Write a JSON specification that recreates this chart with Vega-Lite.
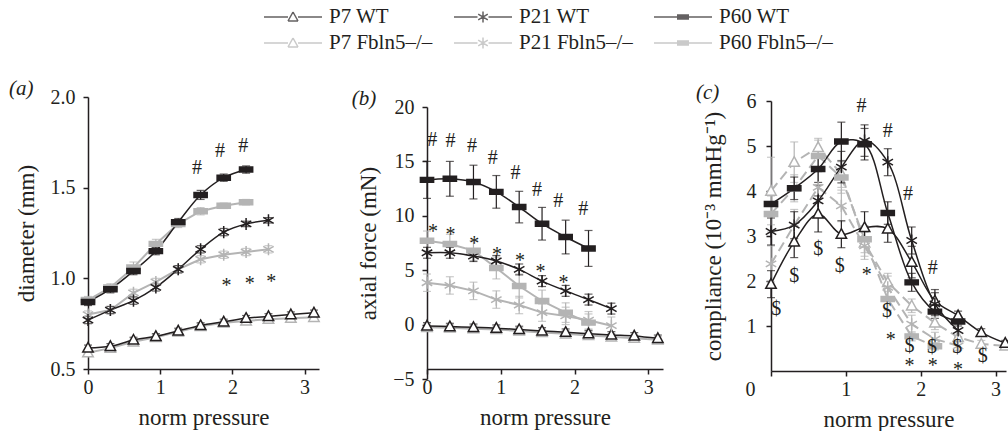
{
  "$schema": "https://vega.github.io/schema/vega-lite/v6.json",
  "background": "white",
  "padding": {"left": 9, "top": 6, "right": 0, "bottom": 0},
  "config": {
    "font": "Liberation Serif",
    "view": {"stroke": null},
    "axis": {"labelFont": "Liberation Serif", "titleFont": "Liberation Serif", "labelFontSize": 20, "titleFontSize": 23, "titleFontWeight": "normal", "labelColor": "#231f20", "titleColor": "#231f20", "domainColor": "#231f20", "tickColor": "#231f20", "grid": false, "tickSize": 5, "domainWidth": 1.5, "tickWidth": 1.5},
    "axisY": {"labelPadding": 8, "titlePadding": 12},
    "axisX": {"labelPadding": 3, "titlePadding": 9, "labelFlush": false, "labelOverlap": false},
    "title": {"font": "Liberation Serif", "fontSize": 21, "fontWeight": "normal", "fontStyle": "italic", "anchor": "start", "frame": "bounds", "color": "#231f20", "offset": -12, "dx": -6},
    "legend": {"labelFont": "Liberation Serif", "labelFontSize": 21, "labelColor": "#231f20", "symbolSize": 400, "symbolStrokeWidth": 1.5, "labelOffset": 25, "columnPadding": 18, "rowPadding": 5, "padding": 0, "labelLimit": 300}
  },
  "datasets": {
    "a": [
      {"s":"P7 Fbln5–/–","p":0,"v":0.59,"lo":0.575,"hi":0.605},
      {"s":"P7 Fbln5–/–","p":0.31,"v":0.615,"lo":0.6,"hi":0.63},
      {"s":"P7 Fbln5–/–","p":0.63,"v":0.65,"lo":0.635,"hi":0.665},
      {"s":"P7 Fbln5–/–","p":0.94,"v":0.675,"lo":0.66,"hi":0.69},
      {"s":"P7 Fbln5–/–","p":1.25,"v":0.705,"lo":0.69,"hi":0.72},
      {"s":"P7 Fbln5–/–","p":1.56,"v":0.735,"lo":0.72,"hi":0.75},
      {"s":"P7 Fbln5–/–","p":1.88,"v":0.755,"lo":0.74,"hi":0.77},
      {"s":"P7 Fbln5–/–","p":2.19,"v":0.765,"lo":0.75,"hi":0.78},
      {"s":"P7 Fbln5–/–","p":2.5,"v":0.775,"lo":0.76,"hi":0.79},
      {"s":"P7 Fbln5–/–","p":2.81,"v":0.78,"lo":0.765,"hi":0.795},
      {"s":"P7 Fbln5–/–","p":3.13,"v":0.785,"lo":0.77,"hi":0.8},
      {"s":"P21 Fbln5–/–","p":0,"v":0.8,"lo":0.78,"hi":0.82},
      {"s":"P21 Fbln5–/–","p":0.31,"v":0.825,"lo":0.805,"hi":0.845},
      {"s":"P21 Fbln5–/–","p":0.63,"v":0.92,"lo":0.9,"hi":0.94},
      {"s":"P21 Fbln5–/–","p":0.94,"v":0.98,"lo":0.96,"hi":1.0},
      {"s":"P21 Fbln5–/–","p":1.25,"v":1.05,"lo":1.03,"hi":1.07},
      {"s":"P21 Fbln5–/–","p":1.56,"v":1.105,"lo":1.085,"hi":1.125},
      {"s":"P21 Fbln5–/–","p":1.88,"v":1.13,"lo":1.11,"hi":1.15},
      {"s":"P21 Fbln5–/–","p":2.19,"v":1.145,"lo":1.125,"hi":1.165},
      {"s":"P21 Fbln5–/–","p":2.5,"v":1.16,"lo":1.14,"hi":1.18},
      {"s":"P60 Fbln5–/–","p":0,"v":0.88,"lo":0.86,"hi":0.9},
      {"s":"P60 Fbln5–/–","p":0.31,"v":0.95,"lo":0.93,"hi":0.97},
      {"s":"P60 Fbln5–/–","p":0.63,"v":1.06,"lo":1.03,"hi":1.09},
      {"s":"P60 Fbln5–/–","p":0.94,"v":1.19,"lo":1.165,"hi":1.215},
      {"s":"P60 Fbln5–/–","p":1.25,"v":1.3,"lo":1.28,"hi":1.32},
      {"s":"P60 Fbln5–/–","p":1.56,"v":1.37,"lo":1.35,"hi":1.39},
      {"s":"P60 Fbln5–/–","p":1.88,"v":1.4,"lo":1.385,"hi":1.415},
      {"s":"P60 Fbln5–/–","p":2.19,"v":1.42,"lo":1.405,"hi":1.435},
      {"s":"P7 WT","p":0,"v":0.616,"lo":0.6,"hi":0.632},
      {"s":"P7 WT","p":0.31,"v":0.625,"lo":0.61,"hi":0.64},
      {"s":"P7 WT","p":0.63,"v":0.66,"lo":0.645,"hi":0.675},
      {"s":"P7 WT","p":0.94,"v":0.68,"lo":0.665,"hi":0.695},
      {"s":"P7 WT","p":1.25,"v":0.71,"lo":0.695,"hi":0.725},
      {"s":"P7 WT","p":1.56,"v":0.74,"lo":0.725,"hi":0.755},
      {"s":"P7 WT","p":1.88,"v":0.76,"lo":0.745,"hi":0.775},
      {"s":"P7 WT","p":2.19,"v":0.78,"lo":0.765,"hi":0.795},
      {"s":"P7 WT","p":2.5,"v":0.79,"lo":0.775,"hi":0.805},
      {"s":"P7 WT","p":2.81,"v":0.8,"lo":0.785,"hi":0.815},
      {"s":"P7 WT","p":3.13,"v":0.81,"lo":0.795,"hi":0.825},
      {"s":"P21 WT","p":0,"v":0.77,"lo":0.75,"hi":0.79},
      {"s":"P21 WT","p":0.31,"v":0.825,"lo":0.805,"hi":0.845},
      {"s":"P21 WT","p":0.63,"v":0.877,"lo":0.857,"hi":0.897},
      {"s":"P21 WT","p":0.94,"v":0.95,"lo":0.93,"hi":0.97},
      {"s":"P21 WT","p":1.25,"v":1.05,"lo":1.03,"hi":1.07},
      {"s":"P21 WT","p":1.56,"v":1.16,"lo":1.14,"hi":1.18},
      {"s":"P21 WT","p":1.88,"v":1.255,"lo":1.235,"hi":1.275},
      {"s":"P21 WT","p":2.19,"v":1.3,"lo":1.285,"hi":1.315},
      {"s":"P21 WT","p":2.5,"v":1.32,"lo":1.305,"hi":1.335},
      {"s":"P60 WT","p":0,"v":0.87,"lo":0.85,"hi":0.89},
      {"s":"P60 WT","p":0.31,"v":0.94,"lo":0.92,"hi":0.96},
      {"s":"P60 WT","p":0.63,"v":1.04,"lo":1.02,"hi":1.06},
      {"s":"P60 WT","p":0.94,"v":1.15,"lo":1.13,"hi":1.17},
      {"s":"P60 WT","p":1.25,"v":1.31,"lo":1.29,"hi":1.33},
      {"s":"P60 WT","p":1.56,"v":1.46,"lo":1.435,"hi":1.485},
      {"s":"P60 WT","p":1.88,"v":1.555,"lo":1.535,"hi":1.575},
      {"s":"P60 WT","p":2.19,"v":1.6,"lo":1.58,"hi":1.62}
    ],
    "a_ann": [
      {"p":1.51,"v":1.61,"t":"#"},
      {"p":1.83,"v":1.7,"t":"#"},
      {"p":2.15,"v":1.73,"t":"#"},
      {"p":1.92,"v":0.98,"t":"*"},
      {"p":2.24,"v":0.99,"t":"*"},
      {"p":2.54,"v":1.0,"t":"*"}
    ],
    "b": [
      {"s":"P7 Fbln5–/–","p":0,"v":-0.25,"lo":-0.55,"hi":0.05},
      {"s":"P7 Fbln5–/–","p":0.31,"v":-0.3,"lo":-0.6,"hi":0},
      {"s":"P7 Fbln5–/–","p":0.63,"v":-0.38,"lo":-0.68,"hi":-0.08},
      {"s":"P7 Fbln5–/–","p":0.94,"v":-0.45,"lo":-0.75,"hi":-0.15},
      {"s":"P7 Fbln5–/–","p":1.25,"v":-0.58,"lo":-0.88,"hi":-0.28},
      {"s":"P7 Fbln5–/–","p":1.56,"v":-0.72,"lo":-1.02,"hi":-0.42},
      {"s":"P7 Fbln5–/–","p":1.88,"v":-0.85,"lo":-1.15,"hi":-0.55},
      {"s":"P7 Fbln5–/–","p":2.19,"v":-1.0,"lo":-1.3,"hi":-0.7},
      {"s":"P7 Fbln5–/–","p":2.5,"v":-1.12,"lo":-1.42,"hi":-0.82},
      {"s":"P7 Fbln5–/–","p":2.81,"v":-1.25,"lo":-1.55,"hi":-0.95},
      {"s":"P7 Fbln5–/–","p":3.13,"v":-1.4,"lo":-1.7,"hi":-1.1},
      {"s":"P21 Fbln5–/–","p":0,"v":3.85,"lo":3.05,"hi":4.65},
      {"s":"P21 Fbln5–/–","p":0.31,"v":3.6,"lo":2.8,"hi":4.4},
      {"s":"P21 Fbln5–/–","p":0.63,"v":3.1,"lo":2.3,"hi":3.9},
      {"s":"P21 Fbln5–/–","p":0.94,"v":2.3,"lo":1.5,"hi":3.1},
      {"s":"P21 Fbln5–/–","p":1.25,"v":1.8,"lo":1.0,"hi":2.6},
      {"s":"P21 Fbln5–/–","p":1.56,"v":1.1,"lo":0.3,"hi":1.9},
      {"s":"P21 Fbln5–/–","p":1.88,"v":0.8,"lo":0.0,"hi":1.6},
      {"s":"P21 Fbln5–/–","p":2.19,"v":0.4,"lo":-0.4,"hi":1.2},
      {"s":"P21 Fbln5–/–","p":2.5,"v":-0.1,"lo":-0.9,"hi":0.7},
      {"s":"P60 Fbln5–/–","p":0,"v":7.7,"lo":6.8,"hi":8.6},
      {"s":"P60 Fbln5–/–","p":0.31,"v":7.4,"lo":6.5,"hi":8.3},
      {"s":"P60 Fbln5–/–","p":0.63,"v":6.8,"lo":5.9,"hi":7.7},
      {"s":"P60 Fbln5–/–","p":0.94,"v":5.2,"lo":4.2,"hi":6.2},
      {"s":"P60 Fbln5–/–","p":1.25,"v":3.55,"lo":2.45,"hi":4.65},
      {"s":"P60 Fbln5–/–","p":1.56,"v":2.17,"lo":1.17,"hi":3.17},
      {"s":"P60 Fbln5–/–","p":1.88,"v":1.1,"lo":0.2,"hi":2.0},
      {"s":"P60 Fbln5–/–","p":2.19,"v":0.18,"lo":-0.62,"hi":0.98},
      {"s":"P7 WT","p":0,"v":-0.12,"lo":-0.42,"hi":0.18},
      {"s":"P7 WT","p":0.31,"v":-0.18,"lo":-0.48,"hi":0.12},
      {"s":"P7 WT","p":0.63,"v":-0.25,"lo":-0.55,"hi":0.05},
      {"s":"P7 WT","p":0.94,"v":-0.33,"lo":-0.63,"hi":-0.03},
      {"s":"P7 WT","p":1.25,"v":-0.45,"lo":-0.75,"hi":-0.15},
      {"s":"P7 WT","p":1.56,"v":-0.58,"lo":-0.88,"hi":-0.28},
      {"s":"P7 WT","p":1.88,"v":-0.7,"lo":-1.0,"hi":-0.4},
      {"s":"P7 WT","p":2.19,"v":-0.83,"lo":-1.13,"hi":-0.53},
      {"s":"P7 WT","p":2.5,"v":-0.95,"lo":-1.25,"hi":-0.65},
      {"s":"P7 WT","p":2.81,"v":-1.04,"lo":-1.34,"hi":-0.74},
      {"s":"P7 WT","p":3.13,"v":-1.26,"lo":-1.56,"hi":-0.96},
      {"s":"P21 WT","p":0,"v":6.6,"lo":6.1,"hi":7.1},
      {"s":"P21 WT","p":0.31,"v":6.6,"lo":6.1,"hi":7.1},
      {"s":"P21 WT","p":0.63,"v":6.3,"lo":5.8,"hi":6.8},
      {"s":"P21 WT","p":0.94,"v":5.85,"lo":5.35,"hi":6.35},
      {"s":"P21 WT","p":1.25,"v":5.07,"lo":4.57,"hi":5.57},
      {"s":"P21 WT","p":1.56,"v":4.0,"lo":3.5,"hi":4.5},
      {"s":"P21 WT","p":1.88,"v":3.1,"lo":2.6,"hi":3.6},
      {"s":"P21 WT","p":2.19,"v":2.3,"lo":1.8,"hi":2.8},
      {"s":"P21 WT","p":2.5,"v":1.47,"lo":0.97,"hi":1.97},
      {"s":"P60 WT","p":0,"v":13.3,"lo":11.6,"hi":15.0},
      {"s":"P60 WT","p":0.31,"v":13.4,"lo":11.8,"hi":15.0},
      {"s":"P60 WT","p":0.63,"v":13.1,"lo":11.55,"hi":14.65},
      {"s":"P60 WT","p":0.94,"v":12.2,"lo":10.7,"hi":13.7},
      {"s":"P60 WT","p":1.25,"v":10.8,"lo":9.35,"hi":12.25},
      {"s":"P60 WT","p":1.56,"v":9.27,"lo":7.77,"hi":10.77},
      {"s":"P60 WT","p":1.88,"v":8.05,"lo":6.5,"hi":9.6},
      {"s":"P60 WT","p":2.19,"v":7.0,"lo":5.35,"hi":8.65}
    ],
    "b_ann": [
      {"p":0.07,"v":17.0,"t":"#"},
      {"p":0.32,"v":16.9,"t":"#"},
      {"p":0.61,"v":16.4,"t":"#"},
      {"p":0.89,"v":15.3,"t":"#"},
      {"p":1.2,"v":13.9,"t":"#"},
      {"p":1.49,"v":12.4,"t":"#"},
      {"p":1.78,"v":11.4,"t":"#"},
      {"p":2.12,"v":10.6,"t":"#"},
      {"p":0.08,"v":8.9,"t":"*"},
      {"p":0.32,"v":8.6,"t":"*"},
      {"p":0.64,"v":7.8,"t":"*"},
      {"p":0.95,"v":6.8,"t":"*"},
      {"p":1.26,"v":6.2,"t":"*"},
      {"p":1.54,"v":5.2,"t":"*"},
      {"p":1.85,"v":4.2,"t":"*"}
    ],
    "c": [
      {"s":"P7 Fbln5–/–","p":0,"v":4.0,"lo":3.25,"hi":4.75},
      {"s":"P7 Fbln5–/–","p":0.31,"v":4.64,"lo":4.19,"hi":5.09},
      {"s":"P7 Fbln5–/–","p":0.63,"v":4.97,"lo":4.77,"hi":5.17},
      {"s":"P7 Fbln5–/–","p":0.94,"v":4.38,"lo":4.08,"hi":4.68},
      {"s":"P7 Fbln5–/–","p":1.25,"v":2.85,"lo":2.55,"hi":3.15},
      {"s":"P7 Fbln5–/–","p":1.56,"v":1.97,"lo":1.77,"hi":2.17},
      {"s":"P7 Fbln5–/–","p":1.88,"v":1.45,"lo":1.3,"hi":1.6},
      {"s":"P7 Fbln5–/–","p":2.19,"v":1.07,"lo":0.92,"hi":1.22},
      {"s":"P7 Fbln5–/–","p":2.5,"v":0.75,"lo":0.65,"hi":0.85},
      {"s":"P7 Fbln5–/–","p":2.81,"v":0.6,"lo":0.52,"hi":0.68},
      {"s":"P7 Fbln5–/–","p":3.13,"v":0.56,"lo":0.5,"hi":0.62},
      {"s":"P21 Fbln5–/–","p":0,"v":2.38,"lo":1.98,"hi":2.78},
      {"s":"P21 Fbln5–/–","p":0.31,"v":3.24,"lo":2.89,"hi":3.59},
      {"s":"P21 Fbln5–/–","p":0.63,"v":4.08,"lo":3.73,"hi":4.43},
      {"s":"P21 Fbln5–/–","p":0.94,"v":3.67,"lo":3.32,"hi":4.02},
      {"s":"P21 Fbln5–/–","p":1.25,"v":2.78,"lo":2.48,"hi":3.08},
      {"s":"P21 Fbln5–/–","p":1.56,"v":1.86,"lo":1.61,"hi":2.11},
      {"s":"P21 Fbln5–/–","p":1.88,"v":1.04,"lo":0.84,"hi":1.24},
      {"s":"P21 Fbln5–/–","p":2.19,"v":0.71,"lo":0.56,"hi":0.86},
      {"s":"P21 Fbln5–/–","p":2.5,"v":0.56,"lo":0.46,"hi":0.66},
      {"s":"P60 Fbln5–/–","p":0,"v":3.49,"lo":3.09,"hi":3.89},
      {"s":"P60 Fbln5–/–","p":0.31,"v":4.06,"lo":3.76,"hi":4.36},
      {"s":"P60 Fbln5–/–","p":0.63,"v":4.78,"lo":4.43,"hi":5.13},
      {"s":"P60 Fbln5–/–","p":0.94,"v":4.3,"lo":3.95,"hi":4.65},
      {"s":"P60 Fbln5–/–","p":1.25,"v":2.93,"lo":2.63,"hi":3.23},
      {"s":"P60 Fbln5–/–","p":1.56,"v":1.6,"lo":1.35,"hi":1.85},
      {"s":"P60 Fbln5–/–","p":1.88,"v":0.77,"lo":0.67,"hi":0.87},
      {"s":"P60 Fbln5–/–","p":2.19,"v":0.55,"lo":0.47,"hi":0.63},
      {"s":"P7 WT","p":0,"v":1.93,"lo":1.63,"hi":2.23},
      {"s":"P7 WT","p":0.31,"v":2.87,"lo":2.52,"hi":3.22},
      {"s":"P7 WT","p":0.63,"v":3.49,"lo":3.09,"hi":3.89},
      {"s":"P7 WT","p":0.94,"v":3.04,"lo":2.74,"hi":3.34},
      {"s":"P7 WT","p":1.25,"v":3.19,"lo":2.84,"hi":3.54},
      {"s":"P7 WT","p":1.56,"v":3.16,"lo":2.86,"hi":3.46},
      {"s":"P7 WT","p":1.88,"v":2.42,"lo":2.07,"hi":2.77},
      {"s":"P7 WT","p":2.19,"v":1.56,"lo":1.31,"hi":1.81},
      {"s":"P7 WT","p":2.5,"v":1.23,"lo":1.13,"hi":1.33},
      {"s":"P7 WT","p":2.81,"v":0.86,"lo":0.78,"hi":0.94},
      {"s":"P7 WT","p":3.13,"v":0.62,"lo":0.56,"hi":0.68},
      {"s":"P21 WT","p":0,"v":3.1,"lo":2.8,"hi":3.4},
      {"s":"P21 WT","p":0.31,"v":3.24,"lo":2.94,"hi":3.54},
      {"s":"P21 WT","p":0.63,"v":3.78,"lo":3.43,"hi":4.13},
      {"s":"P21 WT","p":0.94,"v":4.53,"lo":4.18,"hi":4.88},
      {"s":"P21 WT","p":1.25,"v":5.12,"lo":4.77,"hi":5.47},
      {"s":"P21 WT","p":1.56,"v":4.64,"lo":4.34,"hi":4.94},
      {"s":"P21 WT","p":1.88,"v":2.9,"lo":2.6,"hi":3.2},
      {"s":"P21 WT","p":2.19,"v":1.49,"lo":1.24,"hi":1.74},
      {"s":"P21 WT","p":2.5,"v":0.9,"lo":0.75,"hi":1.05},
      {"s":"P60 WT","p":0,"v":3.71,"lo":3.66,"hi":3.76},
      {"s":"P60 WT","p":0.31,"v":4.06,"lo":3.81,"hi":4.31},
      {"s":"P60 WT","p":0.63,"v":4.49,"lo":4.19,"hi":4.79},
      {"s":"P60 WT","p":0.94,"v":5.1,"lo":4.67,"hi":5.53},
      {"s":"P60 WT","p":1.25,"v":5.04,"lo":4.69,"hi":5.39},
      {"s":"P60 WT","p":1.56,"v":3.51,"lo":3.26,"hi":3.76},
      {"s":"P60 WT","p":1.88,"v":1.97,"lo":1.77,"hi":2.17},
      {"s":"P60 WT","p":2.19,"v":1.32,"lo":1.17,"hi":1.47},
      {"s":"P60 WT","p":2.5,"v":1.1,"lo":1.0,"hi":1.2}
    ],
    "c_ann": [
      {"p":1.21,"v":5.9,"t":"#"},
      {"p":1.56,"v":5.34,"t":"#"},
      {"p":1.83,"v":3.93,"t":"#"},
      {"p":2.16,"v":2.3,"t":"#"},
      {"p":0.63,"v":2.71,"t":"$"},
      {"p":0.92,"v":2.34,"t":"$"},
      {"p":0.31,"v":2.12,"t":"$"},
      {"p":0.07,"v":1.38,"t":"$"},
      {"p":1.55,"v":1.34,"t":"$"},
      {"p":1.85,"v":0.56,"t":"$"},
      {"p":2.15,"v":0.53,"t":"$"},
      {"p":2.49,"v":0.53,"t":"$"},
      {"p":2.83,"v":0.33,"t":"$"},
      {"p":1.28,"v":2.23,"t":"*"},
      {"p":1.6,"v":0.77,"t":"*"},
      {"p":1.85,"v":0.19,"t":"*"},
      {"p":2.16,"v":0.2,"t":"*"},
      {"p":2.5,"v":0.12,"t":"*"}
    ]
  },
  "spacing": 28,
  "resolve": {"scale": {"color": "shared", "shape": "shared", "fill": "shared", "stroke": "shared"}, "legend": {"color": "shared", "shape": "shared"}},
  "hconcat": [
    {
      "title": {"text": "(a)"},
      "width": 231, "height": 272,
      "data": {"name": "a"},
      "layer": [
        {"transform": [{"filter": "indexof(datum.s,'WT') < 0"}],
         "mark": {"type": "errorbar", "ticks": true, "size": 8, "thickness": 1.2},
         "encoding": {
           "x": {"field": "p", "type": "quantitative", "title": "norm pressure", "scale": {"domain": [0, 3.2], "nice": false, "zero": false}, "axis": {"values": [0, 1, 2, 3], "format": "d"}},
           "y": {"field": "lo", "type": "quantitative", "title": "diameter (mm)", "scale": {"domain": [0.5, 2.0], "nice": false, "zero": false}, "axis": {"values": [0.5, 1, 1.5, 2], "format": ".1f"}},
           "y2": {"field": "hi"},
           "color": {"field": "s", "type": "nominal", "scale": {"domain": ["P7 WT","P21 WT","P60 WT","P7 Fbln5–/–","P21 Fbln5–/–","P60 Fbln5–/–"], "range": ["#231f20","#231f20","#231f20","#b4b4b4","#b4b4b4","#b4b4b4"]}}
         }},
        {"transform": [{"filter": "indexof(datum.s,'WT') < 0"}],
         "mark": {"type": "line", "strokeWidth": 2},
         "encoding": {
           "x": {"field": "p", "type": "quantitative", "title": "norm pressure"},
           "y": {"field": "v", "type": "quantitative", "title": "diameter (mm)"},
           "color": {"field": "s", "type": "nominal"}
         }},
        {"transform": [{"filter": "indexof(datum.s,'WT') > 0"}],
         "mark": {"type": "errorbar", "ticks": true, "size": 8, "thickness": 1.2},
         "encoding": {
           "x": {"field": "p", "type": "quantitative", "title": "norm pressure"},
           "y": {"field": "lo", "type": "quantitative", "title": "diameter (mm)"},
           "y2": {"field": "hi"},
           "color": {"field": "s", "type": "nominal"}
         }},
        {"transform": [{"filter": "indexof(datum.s,'WT') > 0"}],
         "mark": {"type": "line", "strokeWidth": 1.5, "interpolate": "catmull-rom"},
         "encoding": {
           "x": {"field": "p", "type": "quantitative", "title": "norm pressure"},
           "y": {"field": "v", "type": "quantitative", "title": "diameter (mm)"},
           "color": {"field": "s", "type": "nominal"}
         }},
        {"transform": [{"filter": "indexof(datum.s,'P7') === 0"}],
         "mark": {"type": "point", "shape": "M0,-1L0.95,0.75L-0.95,0.75Z", "size": 121, "strokeWidth": 1.5, "opacity": 1, "fillOpacity": 1},
         "encoding": {
           "x": {"field": "p", "type": "quantitative", "title": "norm pressure"},
           "y": {"field": "v", "type": "quantitative", "title": "diameter (mm)"},
           "fill": {"field": "s", "type": "nominal", "legend": null, "scale": {"domain": ["P7 WT","P21 WT","P60 WT","P7 Fbln5–/–","P21 Fbln5–/–","P60 Fbln5–/–"], "range": ["white","white","#231f20","white","white","#b4b4b4"]}},
           "stroke": {"field": "s", "type": "nominal", "legend": null, "scale": {"domain": ["P7 WT","P21 WT","P60 WT","P7 Fbln5–/–","P21 Fbln5–/–","P60 Fbln5–/–"], "range": ["#231f20","#231f20","#231f20","#b4b4b4","#b4b4b4","#b4b4b4"]}}
         }},
        {"transform": [{"filter": "indexof(datum.s,'P21') === 0"}],
         "mark": {"type": "point", "shape": "M0,-1.1L0,1.1M-0.95,-0.55L0.95,0.55M-0.95,0.55L0.95,-0.55", "size": 121, "strokeWidth": 1.5, "opacity": 1, "fillOpacity": 1},
         "encoding": {
           "x": {"field": "p", "type": "quantitative", "title": "norm pressure"},
           "y": {"field": "v", "type": "quantitative", "title": "diameter (mm)"},
           "fill": {"field": "s", "type": "nominal", "legend": null},
           "stroke": {"field": "s", "type": "nominal", "legend": null}
         }},
        {"transform": [{"filter": "indexof(datum.s,'P60') === 0"}],
         "mark": {"type": "point", "shape": "M-1.2,-0.45L1.2,-0.45L1.2,0.45L-1.2,0.45Z", "size": 121, "strokeWidth": 1.5, "opacity": 1, "fillOpacity": 1},
         "encoding": {
           "x": {"field": "p", "type": "quantitative", "title": "norm pressure"},
           "y": {"field": "v", "type": "quantitative", "title": "diameter (mm)"},
           "fill": {"field": "s", "type": "nominal", "legend": null},
           "stroke": {"field": "s", "type": "nominal", "legend": null}
         }},
        {"data": {"name": "a_ann"}, "transform": [{"filter": "datum.t !== '*'"}],
         "mark": {"type": "text", "font": "Liberation Serif", "fontSize": 20, "fill": "#231f20", "baseline": "middle"},
         "encoding": {
           "x": {"field": "p", "type": "quantitative", "title": "norm pressure"},
           "y": {"field": "v", "type": "quantitative", "title": "diameter (mm)"},
           "text": {"field": "t"}
         }},
        {"data": {"name": "a_ann"}, "transform": [{"filter": "datum.t === '*'"}],
         "mark": {"type": "text", "font": "Liberation Serif", "fontSize": 20, "fill": "#231f20", "baseline": "middle", "dy": 4},
         "encoding": {
           "x": {"field": "p", "type": "quantitative", "title": "norm pressure"},
           "y": {"field": "v", "type": "quantitative", "title": "diameter (mm)"},
           "text": {"field": "t"}
         }},
        {"transform": [{"filter": "false"}],
         "mark": {"type": "point", "filled": false, "strokeWidth": 1.5, "opacity": 1},
         "encoding": {
           "x": {"field": "p", "type": "quantitative", "title": "norm pressure"},
           "y": {"field": "v", "type": "quantitative", "title": "diameter (mm)"},
           "color": {"field": "s", "type": "nominal",
             "legend": {"title": null, "orient": "none", "legendX": 194, "legendY": -91, "direction": "horizontal", "columns": 3}},
           "shape": {"field": "s", "type": "nominal",
             "scale": {"domain": ["P7 WT","P21 WT","P60 WT","P7 Fbln5–/–","P21 Fbln5–/–","P60 Fbln5–/–"], "range": [
               "M-2.9,0L-0.5,0M0.5,0L2.9,0M0,-0.5L0.5,0.4M0.5,0.4L-0.5,0.4M-0.5,0.4L0,-0.5",
               "M-2.9,0L-0.55,0M0.55,0L2.9,0M0,-0.55L0,0.55M-0.48,-0.28L0.48,0.28M-0.48,0.28L0.48,-0.28",
               "M-2.9,0L2.9,0M-0.6,-0.2L0.6,-0.2M-0.6,-0.1L0.6,-0.1M-0.6,0.1L0.6,0.1M-0.6,0.2L0.6,0.2",
               "M-2.9,0L-0.5,0M0.5,0L2.9,0M0,-0.5L0.5,0.4M0.5,0.4L-0.5,0.4M-0.5,0.4L0,-0.5",
               "M-2.9,0L-0.55,0M0.55,0L2.9,0M0,-0.55L0,0.55M-0.48,-0.28L0.48,0.28M-0.48,0.28L0.48,-0.28",
               "M-2.9,0L2.9,0M-0.6,-0.2L0.6,-0.2M-0.6,-0.1L0.6,-0.1M-0.6,0.1L0.6,0.1M-0.6,0.2L0.6,0.2"]},
             "legend": {"title": null, "orient": "none", "legendX": 194, "legendY": -91, "direction": "horizontal", "columns": 3}}
         }}
      ]
    },
    {
      "title": {"text": "(b)"},
      "width": 236, "height": 282,
      "data": {"name": "b"},
      "layer": [
        {"transform": [{"filter": "indexof(datum.s,'WT') < 0"}],
         "mark": {"type": "errorbar", "ticks": true, "size": 8, "thickness": 1.2},
         "encoding": {
           "x": {"field": "p", "type": "quantitative", "title": "norm pressure", "scale": {"domain": [0, 3.2], "nice": false, "zero": false}, "axis": {"values": [0, 1, 2, 3], "format": "d", "offset": -10}},
           "y": {"field": "lo", "type": "quantitative", "title": "axial force (mN)", "scale": {"domain": [-5, 20], "range": [282, 10], "nice": false, "zero": false}, "axis": {"values": [-5, 0, 5, 10, 15, 20], "format": "d"}},
           "y2": {"field": "hi"},
           "color": {"field": "s", "type": "nominal"}
         }},
        {"transform": [{"filter": "indexof(datum.s,'WT') < 0"}],
         "mark": {"type": "line", "strokeWidth": 2},
         "encoding": {
           "x": {"field": "p", "type": "quantitative", "title": "norm pressure"},
           "y": {"field": "v", "type": "quantitative", "title": "axial force (mN)"},
           "color": {"field": "s", "type": "nominal"}
         }},
        {"transform": [{"filter": "indexof(datum.s,'WT') > 0"}],
         "mark": {"type": "errorbar", "ticks": true, "size": 8, "thickness": 1.2},
         "encoding": {
           "x": {"field": "p", "type": "quantitative", "title": "norm pressure"},
           "y": {"field": "lo", "type": "quantitative", "title": "axial force (mN)"},
           "y2": {"field": "hi"},
           "color": {"field": "s", "type": "nominal"}
         }},
        {"transform": [{"filter": "indexof(datum.s,'WT') > 0"}],
         "mark": {"type": "line", "strokeWidth": 1.5, "interpolate": "catmull-rom"},
         "encoding": {
           "x": {"field": "p", "type": "quantitative", "title": "norm pressure"},
           "y": {"field": "v", "type": "quantitative", "title": "axial force (mN)"},
           "color": {"field": "s", "type": "nominal"}
         }},
        {"transform": [{"filter": "indexof(datum.s,'P7') === 0"}],
         "mark": {"type": "point", "shape": "M0,-1L0.95,0.75L-0.95,0.75Z", "size": 121, "strokeWidth": 1.5, "opacity": 1, "fillOpacity": 1},
         "encoding": {
           "x": {"field": "p", "type": "quantitative", "title": "norm pressure"},
           "y": {"field": "v", "type": "quantitative", "title": "axial force (mN)"},
           "fill": {"field": "s", "type": "nominal", "legend": null},
           "stroke": {"field": "s", "type": "nominal", "legend": null}
         }},
        {"transform": [{"filter": "indexof(datum.s,'P21') === 0"}],
         "mark": {"type": "point", "shape": "M0,-1.1L0,1.1M-0.95,-0.55L0.95,0.55M-0.95,0.55L0.95,-0.55", "size": 121, "strokeWidth": 1.5, "opacity": 1, "fillOpacity": 1},
         "encoding": {
           "x": {"field": "p", "type": "quantitative", "title": "norm pressure"},
           "y": {"field": "v", "type": "quantitative", "title": "axial force (mN)"},
           "fill": {"field": "s", "type": "nominal", "legend": null},
           "stroke": {"field": "s", "type": "nominal", "legend": null}
         }},
        {"transform": [{"filter": "indexof(datum.s,'P60') === 0"}],
         "mark": {"type": "point", "shape": "M-1.2,-0.45L1.2,-0.45L1.2,0.45L-1.2,0.45Z", "size": 121, "strokeWidth": 1.5, "opacity": 1, "fillOpacity": 1},
         "encoding": {
           "x": {"field": "p", "type": "quantitative", "title": "norm pressure"},
           "y": {"field": "v", "type": "quantitative", "title": "axial force (mN)"},
           "fill": {"field": "s", "type": "nominal", "legend": null},
           "stroke": {"field": "s", "type": "nominal", "legend": null}
         }},
        {"data": {"name": "b_ann"}, "transform": [{"filter": "datum.t !== '*'"}],
         "mark": {"type": "text", "font": "Liberation Serif", "fontSize": 20, "fill": "#231f20", "baseline": "middle"},
         "encoding": {
           "x": {"field": "p", "type": "quantitative", "title": "norm pressure"},
           "y": {"field": "v", "type": "quantitative", "title": "axial force (mN)"},
           "text": {"field": "t"}
         }},
        {"data": {"name": "b_ann"}, "transform": [{"filter": "datum.t === '*'"}],
         "mark": {"type": "text", "font": "Liberation Serif", "fontSize": 20, "fill": "#231f20", "baseline": "middle", "dy": 4},
         "encoding": {
           "x": {"field": "p", "type": "quantitative", "title": "norm pressure"},
           "y": {"field": "v", "type": "quantitative", "title": "axial force (mN)"},
           "text": {"field": "t"}
         }}
      ]
    },
    {
      "title": {"text": "(c)"},
      "width": 235, "height": 274,
      "data": {"name": "c"},
      "layer": [
        {"transform": [{"filter": "indexof(datum.s,'WT') < 0"}],
         "mark": {"type": "errorbar", "ticks": true, "size": 8, "thickness": 1.2},
         "encoding": {
           "x": {"field": "p", "type": "quantitative", "title": "norm pressure", "scale": {"domain": [0, 3.14], "nice": false, "zero": false}, "axis": {"values": [0, 1, 2, 3], "format": "d", "labelOffset": {"condition": {"test": "datum.value === 0", "value": -21}, "value": 0}}},
           "y": {"field": "lo", "type": "quantitative", "title": "compliance (10⁻³ mmHg⁻¹)", "scale": {"domain": [0, 6], "range": [274, 4], "nice": false, "zero": false}, "axis": {"values": [1, 2, 3, 4, 5, 6], "format": "d", "labelPadding": 10, "titlePadding": 21}},
           "y2": {"field": "hi"},
           "color": {"field": "s", "type": "nominal"}
         }},
        {"transform": [{"filter": "indexof(datum.s,'WT') < 0"}],
         "mark": {"type": "line", "strokeWidth": 2, "strokeDash": [10, 5]},
         "encoding": {
           "x": {"field": "p", "type": "quantitative", "title": "norm pressure"},
           "y": {"field": "v", "type": "quantitative", "title": "compliance (10⁻³ mmHg⁻¹)"},
           "color": {"field": "s", "type": "nominal"}
         }},
        {"transform": [{"filter": "indexof(datum.s,'WT') > 0"}],
         "mark": {"type": "errorbar", "ticks": true, "size": 8, "thickness": 1.2},
         "encoding": {
           "x": {"field": "p", "type": "quantitative", "title": "norm pressure"},
           "y": {"field": "lo", "type": "quantitative", "title": "compliance (10⁻³ mmHg⁻¹)"},
           "y2": {"field": "hi"},
           "color": {"field": "s", "type": "nominal"}
         }},
        {"transform": [{"filter": "indexof(datum.s,'WT') > 0"}],
         "mark": {"type": "line", "strokeWidth": 1.5, "interpolate": "catmull-rom"},
         "encoding": {
           "x": {"field": "p", "type": "quantitative", "title": "norm pressure"},
           "y": {"field": "v", "type": "quantitative", "title": "compliance (10⁻³ mmHg⁻¹)"},
           "color": {"field": "s", "type": "nominal"}
         }},
        {"transform": [{"filter": "indexof(datum.s,'P7') === 0"}],
         "mark": {"type": "point", "shape": "M0,-1L0.95,0.75L-0.95,0.75Z", "size": 121, "strokeWidth": 1.5, "opacity": 1, "fillOpacity": 1},
         "encoding": {
           "x": {"field": "p", "type": "quantitative", "title": "norm pressure"},
           "y": {"field": "v", "type": "quantitative", "title": "compliance (10⁻³ mmHg⁻¹)"},
           "fill": {"field": "s", "type": "nominal", "legend": null},
           "stroke": {"field": "s", "type": "nominal", "legend": null}
         }},
        {"transform": [{"filter": "indexof(datum.s,'P21') === 0"}],
         "mark": {"type": "point", "shape": "M0,-1.1L0,1.1M-0.95,-0.55L0.95,0.55M-0.95,0.55L0.95,-0.55", "size": 121, "strokeWidth": 1.5, "opacity": 1, "fillOpacity": 1},
         "encoding": {
           "x": {"field": "p", "type": "quantitative", "title": "norm pressure"},
           "y": {"field": "v", "type": "quantitative", "title": "compliance (10⁻³ mmHg⁻¹)"},
           "fill": {"field": "s", "type": "nominal", "legend": null},
           "stroke": {"field": "s", "type": "nominal", "legend": null}
         }},
        {"transform": [{"filter": "indexof(datum.s,'P60') === 0"}],
         "mark": {"type": "point", "shape": "M-1.2,-0.45L1.2,-0.45L1.2,0.45L-1.2,0.45Z", "size": 121, "strokeWidth": 1.5, "opacity": 1, "fillOpacity": 1},
         "encoding": {
           "x": {"field": "p", "type": "quantitative", "title": "norm pressure"},
           "y": {"field": "v", "type": "quantitative", "title": "compliance (10⁻³ mmHg⁻¹)"},
           "fill": {"field": "s", "type": "nominal", "legend": null},
           "stroke": {"field": "s", "type": "nominal", "legend": null}
         }},
        {"data": {"name": "c_ann"}, "transform": [{"filter": "datum.t !== '*'"}],
         "mark": {"type": "text", "font": "Liberation Serif", "fontSize": 20, "fill": "#231f20", "baseline": "middle"},
         "encoding": {
           "x": {"field": "p", "type": "quantitative", "title": "norm pressure"},
           "y": {"field": "v", "type": "quantitative", "title": "compliance (10⁻³ mmHg⁻¹)"},
           "text": {"field": "t"}
         }},
        {"data": {"name": "c_ann"}, "transform": [{"filter": "datum.t === '*'"}],
         "mark": {"type": "text", "font": "Liberation Serif", "fontSize": 20, "fill": "#231f20", "baseline": "middle", "dy": 4},
         "encoding": {
           "x": {"field": "p", "type": "quantitative", "title": "norm pressure"},
           "y": {"field": "v", "type": "quantitative", "title": "compliance (10⁻³ mmHg⁻¹)"},
           "text": {"field": "t"}
         }}
      ]
    }
  ]
}
